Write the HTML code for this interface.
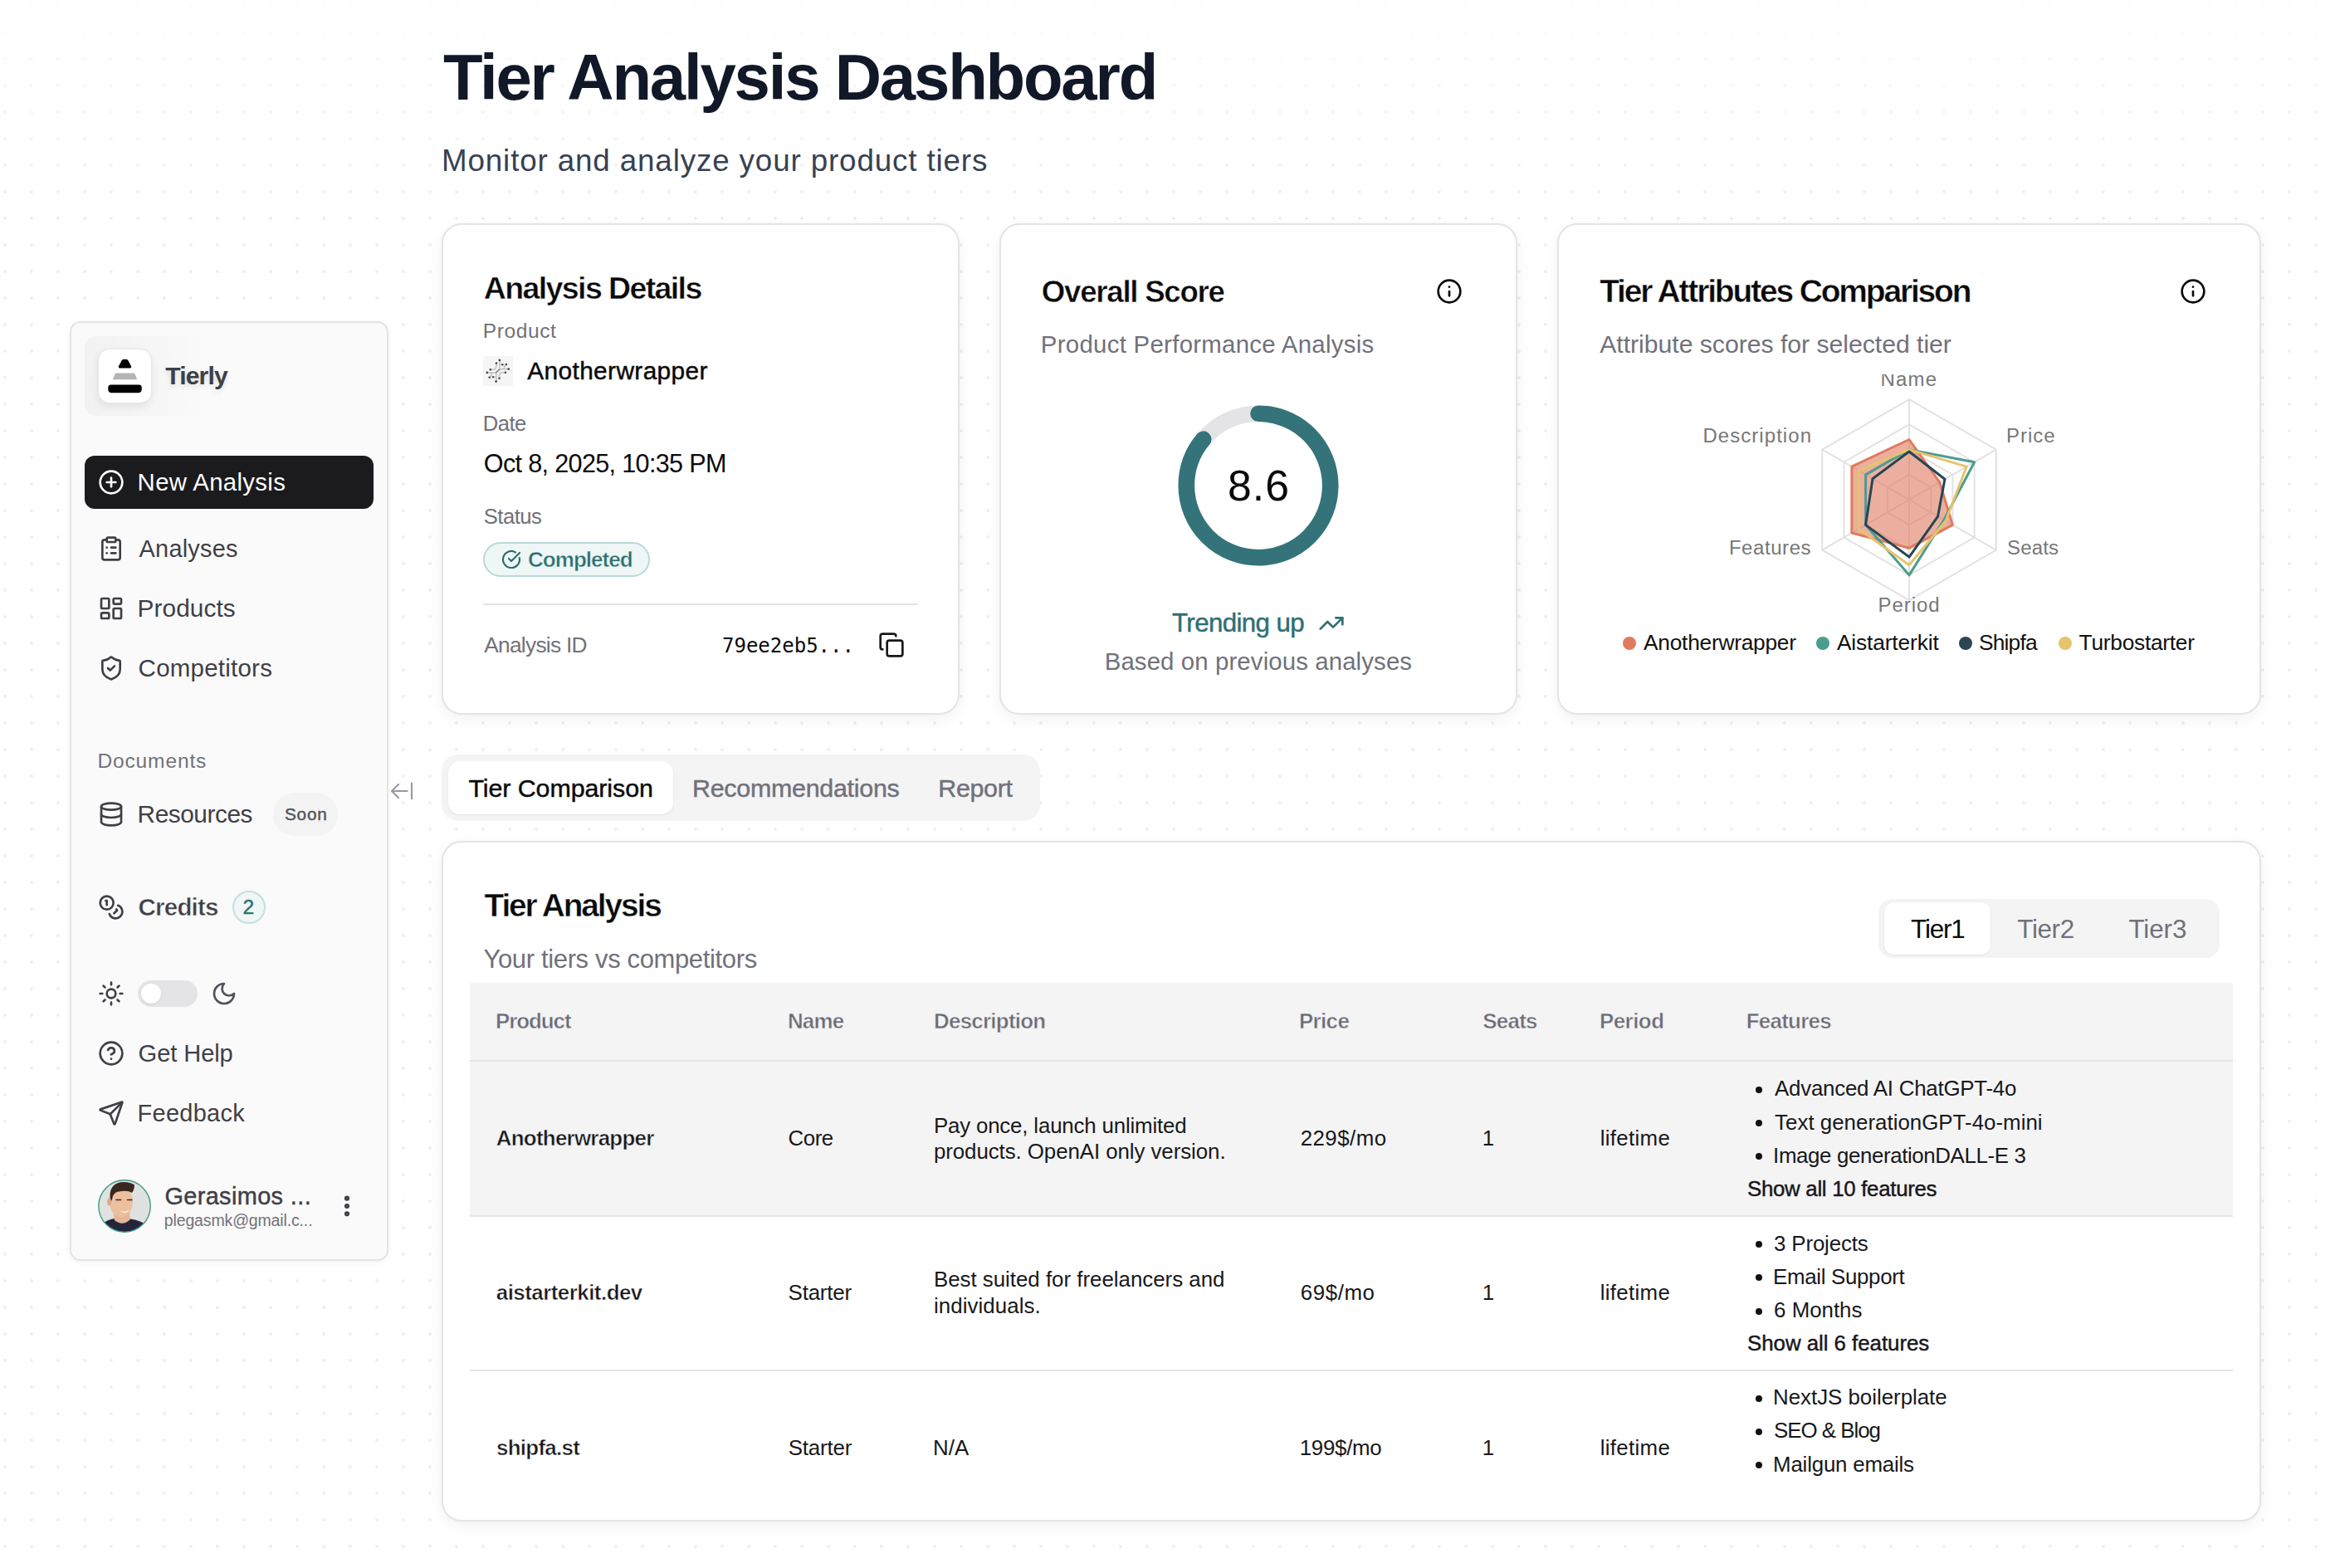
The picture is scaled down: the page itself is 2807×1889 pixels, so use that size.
<!DOCTYPE html>
<html><head><meta charset="utf-8"><title>Tier Analysis Dashboard</title>
<style>
*{box-sizing:border-box;margin:0;padding:0}
html,body{width:2807px;height:1889px;overflow:hidden;background:#fff}
body{position:relative;font-family:'Liberation Sans', Arial, sans-serif;
background-color:#fff}
body::before{content:"";position:absolute;left:0;top:0;width:2807px;height:1889px;
background-image:radial-gradient(circle, #f0f0f0 1.6px, rgba(255,255,255,0) 2.3px);
background-size:32px 32px;background-position:-10px -9px;
-webkit-mask-image:linear-gradient(to bottom, rgba(0,0,0,0.15) 0px, rgba(0,0,0,1) 260px);
mask-image:linear-gradient(to bottom, rgba(0,0,0,0.15) 0px, rgba(0,0,0,1) 260px)}
.t{position:absolute;white-space:pre}
.ab{position:absolute}
.ic{position:absolute;overflow:visible}
.card{position:absolute;background:#fff;border:2px solid #e4e4e7;border-radius:24px;box-shadow:0 6px 18px rgba(0,0,0,0.05),0 0 6px rgba(0,0,0,0.025)}
</style>
<script>(function(){var s=window.innerWidth/2807;if(s>0&&Math.abs(s-1)>0.002){document.documentElement.style.zoom=s;}})();</script>
</head><body>
<!-- sidebar -->
<div class="ab" style="left:84px;top:387px;width:384.4px;height:1131.5px;background:#fafafa;border:2px solid #e4e4e7;border-radius:13px;box-shadow:0 2px 8px rgba(0,0,0,0.05)"></div>
<div class="ab" style="left:102px;top:405px;width:150px;height:96px;border-radius:14px;background:linear-gradient(90deg,rgba(0,0,0,0.035),rgba(0,0,0,0.0))"></div>
<div class="ab" style="left:117.5px;top:419.5px;width:65px;height:66px;border-radius:14px;background:#fff;border:1.5px solid #e6e6e8;box-shadow:0 4px 10px rgba(0,0,0,0.08)"></div>
<svg class="ab" style="left:117.5px;top:419.5px" width="65" height="66" viewBox="117.5 419.5 65 66">
<path d="M146.5,433 Q150,431.5 153.5,433 L157.7,441 Q158,443 156,443 L144,443 Q142,443 142.3,441 Z" fill="#000"/>
<path d="M138.5,449 L161.5,449 L164.8,456.7 L135.2,456.7 Z" fill="#b4b4b4"/>
<path d="M133,462.9 L167,462.9 Q170,463 170.2,466 L170.2,469 Q170,472.7 166,472.7 L134,472.7 Q130,472.7 129.8,469 L129.8,466 Q130,463 133,462.9 Z" fill="#000"/>
</svg>
<div class="ab" style="left:102px;top:549px;width:348px;height:64px;border-radius:12px;background:#1b1b1e"></div>
<svg class="ic" style="left:117.9px;top:565.2px;" width="32" height="32" viewBox="0 0 24 24" fill="none" stroke="#ffffff" stroke-width="2" stroke-linecap="round" stroke-linejoin="round"><circle cx="12" cy="12" r="10"/><path d="M8 12h8"/><path d="M12 8v8"/></svg>
<svg class="ic" style="left:118px;top:645px;" width="32" height="32" viewBox="0 0 24 24" fill="none" stroke="#3f3f46" stroke-width="2" stroke-linecap="round" stroke-linejoin="round"><rect width="8" height="4" x="8" y="2" rx="1" ry="1"/><path d="M16 4h2a2 2 0 0 1 2 2v14a2 2 0 0 1-2 2H6a2 2 0 0 1-2-2V6a2 2 0 0 1 2-2h2"/><path d="M12 11h4"/><path d="M12 16h4"/><path d="M8 11h.01"/><path d="M8 16h.01"/></svg>
<svg class="ic" style="left:118px;top:717px;" width="32" height="32" viewBox="0 0 24 24" fill="none" stroke="#3f3f46" stroke-width="2" stroke-linecap="round" stroke-linejoin="round"><rect width="7" height="9" x="3" y="3" rx="1"/><rect width="7" height="5" x="14" y="3" rx="1"/><rect width="7" height="9" x="14" y="12" rx="1"/><rect width="7" height="5" x="3" y="16" rx="1"/></svg>
<svg class="ic" style="left:118px;top:789px;" width="32" height="32" viewBox="0 0 24 24" fill="none" stroke="#3f3f46" stroke-width="2" stroke-linecap="round" stroke-linejoin="round"><path d="M20 13c0 5-3.5 7.5-7.66 8.95a1 1 0 0 1-.67-.01C7.5 20.5 4 18 4 13V6a1 1 0 0 1 1-1c2 0 4.5-1.2 6.24-2.72a1.17 1.17 0 0 1 1.52 0C14.51 3.81 17 5 19 5a1 1 0 0 1 1 1z"/><path d="m9 12 2 2 4-4"/></svg>
<svg class="ic" style="left:118px;top:965px;" width="32" height="32" viewBox="0 0 24 24" fill="none" stroke="#3f3f46" stroke-width="2" stroke-linecap="round" stroke-linejoin="round"><ellipse cx="12" cy="5" rx="9" ry="3"/><path d="M3 5V19A9 3 0 0 0 21 19V5"/><path d="M3 12A9 3 0 0 0 21 12"/></svg>
<div class="ab" style="left:329px;top:955.4px;width:77.6px;height:51.2px;border-radius:26px;background:#f3f3f4"></div>
<svg class="ic" style="left:118px;top:1077px;" width="32" height="32" viewBox="0 0 24 24" fill="none" stroke="#3f3f46" stroke-width="2" stroke-linecap="round" stroke-linejoin="round"><circle cx="8" cy="8" r="6"/><path d="M18.09 10.37A6 6 0 1 1 10.34 18"/><path d="M7 6h1v4"/><path d="m16.71 13.88.7.71-2.82 2.82"/></svg>
<div class="ab" style="left:280px;top:1072.8px;width:40px;height:40px;border-radius:50%;background:#eef6f6;border:2px solid #c5dfde"></div>
<svg class="ic" style="left:118px;top:1181px;" width="32" height="32" viewBox="0 0 24 24" fill="none" stroke="#3f3f46" stroke-width="2" stroke-linecap="round" stroke-linejoin="round"><circle cx="12" cy="12" r="4"/><path d="M12 2v2"/><path d="M12 20v2"/><path d="m4.93 4.93 1.41 1.41"/><path d="m17.66 17.66 1.41 1.41"/><path d="M2 12h2"/><path d="M20 12h2"/><path d="m6.34 17.66-1.41 1.41"/><path d="m19.07 4.93-1.41 1.41"/></svg>
<div class="ab" style="left:166.2px;top:1181.3px;width:71.7px;height:31.8px;border-radius:16px;background:#e4e4e7"></div>
<div class="ab" style="left:170px;top:1185.2px;width:24px;height:24px;border-radius:50%;background:#fff;box-shadow:0 1px 2px rgba(0,0,0,0.1)"></div>
<svg class="ic" style="left:254px;top:1181px;" width="32" height="32" viewBox="0 0 24 24" fill="none" stroke="#52525b" stroke-width="2" stroke-linecap="round" stroke-linejoin="round"><path d="M12 3a6 6 0 0 0 9 9 9 9 0 1 1-9-9Z"/></svg>
<svg class="ic" style="left:118px;top:1253px;" width="32" height="32" viewBox="0 0 24 24" fill="none" stroke="#3f3f46" stroke-width="2" stroke-linecap="round" stroke-linejoin="round"><circle cx="12" cy="12" r="10"/><path d="M9.09 9a3 3 0 0 1 5.83 1c0 2-3 3-3 3"/><path d="M12 17h.01"/></svg>
<svg class="ic" style="left:118px;top:1325px;" width="32" height="32" viewBox="0 0 24 24" fill="none" stroke="#3f3f46" stroke-width="2" stroke-linecap="round" stroke-linejoin="round"><path d="M14.536 21.686a.5.5 0 0 0 .937-.024l6.5-19a.496.496 0 0 0-.635-.635l-19 6.5a.5.5 0 0 0-.024.937l7.93 3.18a2 2 0 0 1 1.112 1.11z"/><path d="m21.854 2.147-10.94 10.939"/></svg>
<svg class="ab" style="left:118.2px;top:1421.2px" width="64" height="64" viewBox="0 0 64 64">
<defs><clipPath id="avc"><circle cx="32" cy="32" r="31.2"/></clipPath></defs>
<g clip-path="url(#avc)">
<rect width="64" height="64" fill="#dfe2e0"/>
<path d="M4 54 Q12 48 20 47 L36 47 Q46 48 54 52 L64 64 L0 64 Z" fill="#23253a"/>
<path d="M18 38 L38 38 L39 48 Q30 57 20 49 Z" fill="#e6b696"/>
<ellipse cx="28" cy="27" rx="14" ry="18.5" fill="#ecbf9f"/>
<ellipse cx="13.6" cy="27" rx="2.4" ry="4.5" fill="#dda98a"/>
<path d="M14.5 22 Q13.5 6 27 3.2 Q38 2 44 6.5 Q44 12 41 16 Q36 13 29 14 Q20 14 18 20 L16.5 26 Z" fill="#3a2720"/>
<path d="M22 24.5 H27.5 M35.5 24.5 H41" stroke="#3a2a24" stroke-width="1.6" stroke-linecap="round"/>
<path d="M26 37 Q32 40.5 38.5 36.5 Q33 43 26 37 Z" fill="#fff"/>
</g>
<circle cx="32" cy="32" r="31.2" fill="none" stroke="#3d9a88" stroke-width="1.4"/>
</svg>
</div>
<svg class="ic" style="left:402px;top:1437px;" width="32" height="32" viewBox="0 0 24 24" fill="none" stroke="#3f3f46" stroke-width="2.6" stroke-linecap="round" stroke-linejoin="round"><circle cx="12" cy="12" r="1"/><circle cx="12" cy="5" r="1"/><circle cx="12" cy="19" r="1"/></svg>
<svg class="ic" style="left:467.7px;top:937px;" width="32" height="32" viewBox="0 0 24 24" fill="none" stroke="#9a9aa2" stroke-width="1.6" stroke-linecap="round" stroke-linejoin="round"><path d="m9 6-6 6 6 6"/><path d="M3 12h14"/><path d="M21 19V5"/></svg>

<!-- header -->
<!-- cards -->
<div class="card" style="left:532.2px;top:269px;width:623.8px;height:591.8px"></div>
<div class="card" style="left:1203.7px;top:269px;width:624.1px;height:591.8px"></div>
<div class="card" style="left:1876px;top:269px;width:847.9px;height:591.8px"></div>
<div class="ab" style="left:582.2px;top:429.2px;width:35.7px;height:35.7px;background:#f5f5f5"></div>
<svg class="ab" style="left:582.2px;top:429.2px" width="36" height="36" viewBox="0 0 36 36" fill="none" stroke-linecap="round">
<g stroke="#c4c4c4" stroke-width="1.6">
<path d="M19.9 4.9V16.4M19.9 10.2H23.4M19.3 15.6H30.8M25 15.1Q25.3 12 27.9 10M16 8.6V11.5Q16 16.2 11.5 16.2H8.8M4.8 19.9H15.8M15.8 19.6V30.6M10.2 19.9Q10.2 24 7.7 25.7M15.8 25.2H12M26.9 19.8H23.5Q19.5 19.8 19.5 23.5V26.8"/>
</g>
<path d="M19.3 16.4L15.8 19.6" stroke="#555" stroke-width="1.2" stroke-dasharray="1.2 1"/>
<g fill="#4a4a4a"><circle cx="19.9" cy="4.9" r="1.4"/><circle cx="23.4" cy="10.2" r="1.2"/><circle cx="30.8" cy="15.6" r="1.4"/><circle cx="27.9" cy="10" r="1.3"/><circle cx="16" cy="8.6" r="1.3"/><circle cx="8.8" cy="16.2" r="1.3"/><circle cx="4.8" cy="19.9" r="1.4"/><circle cx="15.6" cy="30.6" r="1.4"/><circle cx="7.7" cy="25.7" r="1.3"/><circle cx="12" cy="25.2" r="1.2"/><circle cx="26.9" cy="19.8" r="1.3"/><circle cx="19.5" cy="26.8" r="1.3"/></g>
</svg>
<div class="ab" style="left:582.1px;top:652.7px;width:201px;height:42.6px;border-radius:22px;background:#eef7f6;border:2px solid #b9d9d6"></div>
<svg class="ic" style="left:604px;top:662px;" width="24" height="24" viewBox="0 0 24 24" fill="none" stroke="#2c6e6e" stroke-width="2.2" stroke-linecap="round" stroke-linejoin="round"><path d="M21.801 10A10 10 0 1 1 17 3.335"/><path d="m9 11 3 3L22 4"/></svg>
<div class="ab" style="left:582px;top:726.5px;width:523.6px;height:2px;background:#e4e4e7"></div>
<svg class="ic" style="left:1058px;top:761px;" width="32" height="32" viewBox="0 0 24 24" fill="none" stroke="#18181b" stroke-width="2" stroke-linecap="round" stroke-linejoin="round"><rect width="14" height="14" x="8" y="8" rx="2" ry="2"/><path d="M4 16c-1.1 0-2-.9-2-2V4c0-1.1.9-2 2-2h10c1.1 0 2 .9 2 2"/></svg>
<svg class="ic" style="left:1730px;top:335px;" width="32" height="32" viewBox="0 0 24 24" fill="none" stroke="#0a0a0a" stroke-width="2" stroke-linecap="round" stroke-linejoin="round"><circle cx="12" cy="12" r="10"/><path d="M12 16v-4"/><path d="M12 8h.01"/></svg>
<svg class="ab" style="left:1406px;top:474.6px" width="220" height="220" viewBox="1406 474.6 220 220"><circle cx="1516" cy="584.6" r="86.7" fill="none" stroke="#e4e4e7" stroke-width="19.6"/><circle cx="1516" cy="584.6" r="86.7" fill="none" stroke="#347379" stroke-width="19.6" stroke-linecap="round" stroke-dasharray="468.49 544.75" transform="rotate(-90 1516 584.6)"/></svg>
<svg class="ic" style="left:1588.2px;top:735.4px;" width="32" height="32" viewBox="0 0 24 24" fill="none" stroke="#2f6f73" stroke-width="2" stroke-linecap="round" stroke-linejoin="round"><polyline points="22 7 13.5 15.5 8.5 10.5 2 17"/><polyline points="16 7 22 7 22 13"/></svg>
<svg class="ic" style="left:2625.7px;top:335px;" width="32" height="32" viewBox="0 0 24 24" fill="none" stroke="#0a0a0a" stroke-width="2" stroke-linecap="round" stroke-linejoin="round"><circle cx="12" cy="12" r="10"/><path d="M12 16v-4"/><path d="M12 8h.01"/></svg>
<svg class="ab" style="left:1880px;top:450px" width="840" height="300" viewBox="1880 450 840 300"><polygon points="2300.0,571.85 2326.2,586.98 2326.2,617.23 2300.0,632.35 2273.8,617.23 2273.8,586.98" fill="none" stroke="#e2e2e4" stroke-width="2"/><polygon points="2300.0,541.6 2352.39,571.85 2352.39,632.35 2300.0,662.6 2247.61,632.35 2247.61,571.85" fill="none" stroke="#e2e2e4" stroke-width="2"/><polygon points="2300.0,511.35 2378.59,556.73 2378.59,647.48 2300.0,692.85 2221.41,647.48 2221.41,556.73" fill="none" stroke="#e2e2e4" stroke-width="2"/><polygon points="2300.0,481.1 2404.79,541.6 2404.79,662.6 2300.0,723.1 2195.21,662.6 2195.21,541.6" fill="none" stroke="#e2e2e4" stroke-width="2"/><line x1="2300" y1="602.1" x2="2300.0" y2="481.1" stroke="#e2e2e4" stroke-width="2"/><line x1="2300" y1="602.1" x2="2404.79" y2="541.6" stroke="#e2e2e4" stroke-width="2"/><line x1="2300" y1="602.1" x2="2404.79" y2="662.6" stroke="#e2e2e4" stroke-width="2"/><line x1="2300" y1="602.1" x2="2300.0" y2="723.1" stroke="#e2e2e4" stroke-width="2"/><line x1="2300" y1="602.1" x2="2195.21" y2="662.6" stroke="#e2e2e4" stroke-width="2"/><line x1="2300" y1="602.1" x2="2195.21" y2="541.6" stroke="#e2e2e4" stroke-width="2"/><polygon points="2300.0,529.5 2336.68,580.93 2352.39,632.35 2300.0,660.18 2230.84,642.03 2230.84,562.17" fill="#e07a5f" fill-opacity="0.6" stroke="#e07a5f" stroke-width="3" stroke-linejoin="round"/><polygon points="2300.0,541.6 2378.59,556.73 2341.92,626.3 2300.0,692.85 2247.61,632.35 2247.61,571.85" fill="none" stroke="#4a9d8f" stroke-width="3" stroke-linejoin="round"/><polygon points="2300.0,541.6 2369.16,562.17 2344.01,627.51 2300.0,680.75 2239.22,637.19 2239.22,567.01" fill="none" stroke="#e6c46b" stroke-width="3" stroke-linejoin="round"/><polygon points="2300.0,544.02 2342.96,577.3 2334.58,622.07 2300.0,671.07 2247.61,632.35 2255.99,576.69" fill="none" stroke="#264653" stroke-width="3" stroke-linejoin="round"/></svg>
<div class="ab" style="left:1955.1px;top:767px;width:16px;height:16px;border-radius:50%;background:#e07a5f"></div>
<div class="ab" style="left:2187.6px;top:767px;width:16px;height:16px;border-radius:50%;background:#4a9d8f"></div>
<div class="ab" style="left:2359.9px;top:767px;width:16px;height:16px;border-radius:50%;background:#2b4654"></div>
<div class="ab" style="left:2479.6px;top:767px;width:16px;height:16px;border-radius:50%;background:#e6c46b"></div>

<!-- tabs -->
<div class="ab" style="left:532px;top:909px;width:721px;height:80px;border-radius:20px;background:#f4f4f5"></div>
<div class="ab" style="left:539.7px;top:916.8px;width:271.2px;height:64.2px;border-radius:14px;background:#fff;box-shadow:0 1px 3px rgba(0,0,0,0.08)"></div>

<!-- table card -->
<div class="card" style="left:532px;top:1012.7px;width:2191.6px;height:819.9px;overflow:hidden">
</div>
<div class="ab" style="left:2262.6px;top:1083px;width:411px;height:71.4px;border-radius:16px;background:#f4f4f5"></div>
<div class="ab" style="left:2270px;top:1086.8px;width:127.8px;height:63.2px;border-radius:12px;background:#fff;box-shadow:0 1px 3px rgba(0,0,0,0.08)"></div>
<div class="ab" style="left:565.7px;top:1183.7px;width:2124px;height:95.3px;background:#f4f4f5;border-bottom:2px solid #e4e4e7"></div>
<div class="ab" style="left:565.7px;top:1279px;width:2124px;height:187px;background:#f4f4f5;border-bottom:2px solid #e4e4e7"></div>
<div class="ab" style="left:565.7px;top:1466px;width:2124px;height:186px;border-bottom:2px solid #e4e4e7"></div>
<div class="ab" style="left:2115px;top:1309.0px;width:8px;height:8px;border-radius:50%;background:#111"></div><div class="ab" style="left:2115px;top:1349.2px;width:8px;height:8px;border-radius:50%;background:#111"></div><div class="ab" style="left:2115px;top:1389.4px;width:8px;height:8px;border-radius:50%;background:#111"></div><div class="ab" style="left:2115px;top:1495.2px;width:8px;height:8px;border-radius:50%;background:#111"></div><div class="ab" style="left:2115px;top:1535.3px;width:8px;height:8px;border-radius:50%;background:#111"></div><div class="ab" style="left:2115px;top:1575.5px;width:8px;height:8px;border-radius:50%;background:#111"></div><div class="ab" style="left:2115px;top:1680.8px;width:8px;height:8px;border-radius:50%;background:#111"></div><div class="ab" style="left:2115px;top:1721.0px;width:8px;height:8px;border-radius:50%;background:#111"></div><div class="ab" style="left:2115px;top:1761.2px;width:8px;height:8px;border-radius:50%;background:#111"></div>
<div class="t" style="left:534px;top:54.7px;font-family:'Liberation Sans', Arial, sans-serif;font-size:77.91px;line-height:77.91px;font-weight:700;letter-spacing:-2.182px;color:#111827;">Tier Analysis Dashboard</div><div class="t" style="left:532px;top:175.5px;font-family:'Liberation Sans', Arial, sans-serif;font-size:36.77px;line-height:36.77px;font-weight:400;letter-spacing:0.865px;color:#374151;">Monitor and analyze your product tiers</div><div class="t" style="left:199.2px;top:438.1px;font-family:'Liberation Sans', Arial, sans-serif;font-size:30.09px;line-height:30.09px;font-weight:700;letter-spacing:-0.84px;color:#3f3f46;text-shadow:0 3px 6px rgba(0,0,0,0.12);">Tierly</div><div class="t" style="left:165.6px;top:566px;font-family:'Liberation Sans', Arial, sans-serif;font-size:29.36px;line-height:29.36px;font-weight:400;letter-spacing:0.336px;color:#ffffff;">New Analysis</div><div class="t" style="left:167.6px;top:646.9px;font-family:'Liberation Sans', Arial, sans-serif;font-size:28.92px;line-height:28.92px;font-weight:400;letter-spacing:0.214px;color:#3f3f46;">Analyses</div><div class="t" style="left:165.6px;top:718.2px;font-family:'Liberation Sans', Arial, sans-serif;font-size:29.8px;line-height:29.8px;font-weight:400;letter-spacing:0.071px;color:#3f3f46;">Products</div><div class="t" style="left:166.6px;top:790.3px;font-family:'Liberation Sans', Arial, sans-serif;font-size:29.51px;line-height:29.51px;font-weight:400;letter-spacing:0.23px;color:#3f3f46;">Competitors</div><div class="t" style="left:117.4px;top:904.9px;font-family:'Liberation Sans', Arial, sans-serif;font-size:24.56px;line-height:24.56px;font-weight:400;letter-spacing:0.85px;color:#71717a;">Documents</div><div class="t" style="left:165.6px;top:966.2px;font-family:'Liberation Sans', Arial, sans-serif;font-size:29.8px;line-height:29.8px;font-weight:400;letter-spacing:-0.45px;color:#3f3f46;">Resources</div><div class="t" style="left:342.9px;top:971px;font-family:'Liberation Sans', Arial, sans-serif;font-size:20.78px;line-height:20.78px;font-weight:400;letter-spacing:0.8px;color:#52525b;-webkit-text-stroke:0.45px currentColor;">Soon</div><div class="t" style="left:166.6px;top:1078.2px;font-family:'Liberation Sans', Arial, sans-serif;font-size:29.51px;line-height:29.51px;font-weight:700;letter-spacing:-0.8px;color:#3f3f46;-webkit-text-stroke:0.5px #fafafa;">Credits</div><div class="t" style="left:292.5px;top:1081.2px;font-family:'Liberation Sans', Arial, sans-serif;font-size:24.56px;line-height:24.56px;font-weight:400;letter-spacing:0px;color:#2a7070;-webkit-text-stroke:0.45px currentColor;">2</div><div class="t" style="left:166.6px;top:1255px;font-family:'Liberation Sans', Arial, sans-serif;font-size:29.07px;line-height:29.07px;font-weight:400;letter-spacing:-0.071px;color:#3f3f46;">Get Help</div><div class="t" style="left:165.6px;top:1327.1px;font-family:'Liberation Sans', Arial, sans-serif;font-size:28.92px;line-height:28.92px;font-weight:400;letter-spacing:0.3px;color:#3f3f46;">Feedback</div><div class="t" style="left:198.4px;top:1426.7px;font-family:'Liberation Sans', Arial, sans-serif;font-size:28.92px;line-height:28.92px;font-weight:400;letter-spacing:0.367px;color:#3f3f46;-webkit-text-stroke:0.45px currentColor;">Gerasimos ...</div><div class="t" style="left:197.8px;top:1461px;font-family:'Liberation Sans', Arial, sans-serif;font-size:19.5px;line-height:19.5px;font-weight:400;letter-spacing:-0.139px;color:#71717a;">plegasmk@gmail.c...</div><div class="t" style="left:582.8px;top:328.9px;font-family:'Liberation Sans', Arial, sans-serif;font-size:37.5px;line-height:37.5px;font-weight:700;letter-spacing:-1.613px;color:#0a0a0a;-webkit-text-stroke:0.45px #ffffff;">Analysis Details</div><div class="t" style="left:581.8px;top:386.9px;font-family:'Liberation Sans', Arial, sans-serif;font-size:24.56px;line-height:24.56px;font-weight:400;letter-spacing:0.583px;color:#71717a;">Product</div><div class="t" style="left:635.3px;top:432.3px;font-family:'Liberation Sans', Arial, sans-serif;font-size:29.8px;line-height:29.8px;font-weight:400;letter-spacing:0.392px;color:#0a0a0a;-webkit-text-stroke:0.45px currentColor;">Anotherwrapper</div><div class="t" style="left:581.8px;top:497.8px;font-family:'Liberation Sans', Arial, sans-serif;font-size:25.58px;line-height:25.58px;font-weight:400;letter-spacing:-0.5px;color:#71717a;">Date</div><div class="t" style="left:582.8px;top:543.2px;font-family:'Liberation Sans', Arial, sans-serif;font-size:30.52px;line-height:30.52px;font-weight:400;letter-spacing:-0.635px;color:#0a0a0a;">Oct 8, 2025, 10:35 PM</div><div class="t" style="left:582.8px;top:610.2px;font-family:'Liberation Sans', Arial, sans-serif;font-size:25.58px;line-height:25.58px;font-weight:400;letter-spacing:-0.5px;color:#71717a;">Status</div><div class="t" style="left:636px;top:660.7px;font-family:'Liberation Sans', Arial, sans-serif;font-size:26.02px;line-height:26.02px;font-weight:700;letter-spacing:-0.975px;color:#2c6e6e;-webkit-text-stroke:0.5px #eef7f6;">Completed</div><div class="t" style="left:583.2px;top:763.6px;font-family:'Liberation Sans', Arial, sans-serif;font-size:26.31px;line-height:26.31px;font-weight:400;letter-spacing:-0.71px;color:#71717a;">Analysis ID</div><div class="t" style="left:870px;top:765.6px;font-family:'DejaVu Sans Mono', 'Liberation Mono', monospace;font-size:24px;line-height:24px;font-weight:400;letter-spacing:0px;color:#0a0a0a;">79ee2eb5...</div><div class="t" style="left:1254.8px;top:334.1px;font-family:'Liberation Sans', Arial, sans-serif;font-size:36.63px;line-height:36.63px;font-weight:700;letter-spacing:-1.25px;color:#0a0a0a;-webkit-text-stroke:0.45px #ffffff;">Overall Score</div><div class="t" style="left:1253.8px;top:400.1px;font-family:'Liberation Sans', Arial, sans-serif;font-size:29.36px;line-height:29.36px;font-weight:400;letter-spacing:0.304px;color:#71717a;">Product Performance Analysis</div><div class="t" style="left:1479px;top:560.3px;font-family:'Liberation Sans', Arial, sans-serif;font-size:51.74px;line-height:51.74px;font-weight:400;letter-spacing:1.0px;color:#0a0a0a;">8.6</div><div class="t" style="left:1412px;top:735.3px;font-family:'Liberation Sans', Arial, sans-serif;font-size:31.25px;line-height:31.25px;font-weight:400;letter-spacing:-0.6px;color:#2f6f73;-webkit-text-stroke:0.45px currentColor;">Trending up</div><div class="t" style="left:1330.7px;top:782px;font-family:'Liberation Sans', Arial, sans-serif;font-size:29.36px;line-height:29.36px;font-weight:400;letter-spacing:0.124px;color:#71717a;">Based on previous analyses</div><div class="t" style="left:1927.2px;top:332.2px;font-family:'Liberation Sans', Arial, sans-serif;font-size:38.95px;line-height:38.95px;font-weight:700;letter-spacing:-2.144px;color:#0a0a0a;-webkit-text-stroke:0.45px #ffffff;">Tier Attributes Comparison</div><div class="t" style="left:1927.2px;top:400.4px;font-family:'Liberation Sans', Arial, sans-serif;font-size:30.23px;line-height:30.23px;font-weight:400;letter-spacing:-0.036px;color:#71717a;">Attribute scores for selected tier</div><div class="ab" style="left:2200px;top:450.5px;width:200px;height:40px;overflow:hidden"><div class="t" style="left:65.6px;top:-5.8px;font-family:'Liberation Sans', Arial, sans-serif;font-size:23.98px;line-height:23.98px;font-weight:400;letter-spacing:1.167px;color:#777777;">Name</div></div><div class="t" style="left:2051.4px;top:512.7px;font-family:'Liberation Sans', Arial, sans-serif;font-size:23.98px;line-height:23.98px;font-weight:400;letter-spacing:1.07px;color:#777777;">Description</div><div class="t" style="left:2417px;top:512.7px;font-family:'Liberation Sans', Arial, sans-serif;font-size:23.98px;line-height:23.98px;font-weight:400;letter-spacing:1.0px;color:#777777;">Price</div><div class="t" style="left:2082.9px;top:648.3px;font-family:'Liberation Sans', Arial, sans-serif;font-size:23.98px;line-height:23.98px;font-weight:400;letter-spacing:0.586px;color:#777777;">Features</div><div class="t" style="left:2418px;top:648.3px;font-family:'Liberation Sans', Arial, sans-serif;font-size:23.98px;line-height:23.98px;font-weight:400;letter-spacing:0.2px;color:#777777;">Seats</div><div class="t" style="left:2262.6px;top:716.7px;font-family:'Liberation Sans', Arial, sans-serif;font-size:23.98px;line-height:23.98px;font-weight:400;letter-spacing:0.92px;color:#777777;">Period</div><div class="t" style="left:1980px;top:761.3px;font-family:'Liberation Sans', Arial, sans-serif;font-size:26.31px;line-height:26.31px;font-weight:400;letter-spacing:-0.238px;color:#111111;">Anotherwrapper</div><div class="t" style="left:2212.9px;top:761.3px;font-family:'Liberation Sans', Arial, sans-serif;font-size:26.31px;line-height:26.31px;font-weight:400;letter-spacing:-0.127px;color:#111111;">Aistarterkit</div><div class="t" style="left:2383.9px;top:761.3px;font-family:'Liberation Sans', Arial, sans-serif;font-size:26.31px;line-height:26.31px;font-weight:400;letter-spacing:-0.78px;color:#111111;">Shipfa</div><div class="t" style="left:2504.6px;top:761.3px;font-family:'Liberation Sans', Arial, sans-serif;font-size:26.31px;line-height:26.31px;font-weight:400;letter-spacing:-0.264px;color:#111111;">Turbostarter</div><div class="t" style="left:564.4px;top:933.7px;font-family:'Liberation Sans', Arial, sans-serif;font-size:30.38px;line-height:30.38px;font-weight:400;letter-spacing:-0.064px;color:#0a0a0a;-webkit-text-stroke:0.45px currentColor;">Tier Comparison</div><div class="t" style="left:834px;top:933.7px;font-family:'Liberation Sans', Arial, sans-serif;font-size:30.38px;line-height:30.38px;font-weight:400;letter-spacing:-0.25px;color:#71717a;-webkit-text-stroke:0.45px currentColor;">Recommendations</div><div class="t" style="left:1130.3px;top:933.7px;font-family:'Liberation Sans', Arial, sans-serif;font-size:30.38px;line-height:30.38px;font-weight:400;letter-spacing:-0.3px;color:#71717a;-webkit-text-stroke:0.45px currentColor;">Report</div><div class="t" style="left:583.5px;top:1072px;font-family:'Liberation Sans', Arial, sans-serif;font-size:38.81px;line-height:38.81px;font-weight:700;letter-spacing:-2.092px;color:#0a0a0a;-webkit-text-stroke:0.45px #ffffff;">Tier Analysis</div><div class="t" style="left:582.5px;top:1140.5px;font-family:'Liberation Sans', Arial, sans-serif;font-size:30.96px;line-height:30.96px;font-weight:400;letter-spacing:-0.338px;color:#71717a;">Your tiers vs competitors</div><div class="t" style="left:2302.1px;top:1104px;font-family:'Liberation Sans', Arial, sans-serif;font-size:31.4px;line-height:31.4px;font-weight:400;letter-spacing:-1.175px;color:#0a0a0a;">Tier1</div><div class="t" style="left:2430.3px;top:1104px;font-family:'Liberation Sans', Arial, sans-serif;font-size:31.4px;line-height:31.4px;font-weight:400;letter-spacing:-0.375px;color:#71717a;">Tier2</div><div class="t" style="left:2564.4px;top:1104px;font-family:'Liberation Sans', Arial, sans-serif;font-size:31.4px;line-height:31.4px;font-weight:400;letter-spacing:-0.1px;color:#71717a;">Tier3</div><div class="t" style="left:597px;top:1218.3px;font-family:'Liberation Sans', Arial, sans-serif;font-size:25.87px;line-height:25.87px;font-weight:700;letter-spacing:-1.017px;color:#6b6b76;-webkit-text-stroke:0.5px #f4f4f5;">Product</div><div class="t" style="left:948.9px;top:1218.3px;font-family:'Liberation Sans', Arial, sans-serif;font-size:25.87px;line-height:25.87px;font-weight:700;letter-spacing:-0.7px;color:#6b6b76;-webkit-text-stroke:0.5px #f4f4f5;">Name</div><div class="t" style="left:1125px;top:1218.3px;font-family:'Liberation Sans', Arial, sans-serif;font-size:25.87px;line-height:25.87px;font-weight:700;letter-spacing:-0.71px;color:#6b6b76;-webkit-text-stroke:0.5px #f4f4f5;">Description</div><div class="t" style="left:1565px;top:1218.3px;font-family:'Liberation Sans', Arial, sans-serif;font-size:25.87px;line-height:25.87px;font-weight:700;letter-spacing:-0.625px;color:#6b6b76;-webkit-text-stroke:0.5px #f4f4f5;">Price</div><div class="t" style="left:1786.2px;top:1218.3px;font-family:'Liberation Sans', Arial, sans-serif;font-size:25.87px;line-height:25.87px;font-weight:700;letter-spacing:-0.675px;color:#6b6b76;-webkit-text-stroke:0.5px #f4f4f5;">Seats</div><div class="t" style="left:1926.9px;top:1218.3px;font-family:'Liberation Sans', Arial, sans-serif;font-size:25.87px;line-height:25.87px;font-weight:700;letter-spacing:-0.48px;color:#6b6b76;-webkit-text-stroke:0.5px #f4f4f5;">Period</div><div class="t" style="left:2103.7px;top:1218.3px;font-family:'Liberation Sans', Arial, sans-serif;font-size:25.87px;line-height:25.87px;font-weight:700;letter-spacing:-0.7px;color:#6b6b76;-webkit-text-stroke:0.5px #f4f4f5;">Features</div><div class="t" style="left:597.8px;top:1359.2px;font-family:'Liberation Sans', Arial, sans-serif;font-size:25.87px;line-height:25.87px;font-weight:700;letter-spacing:-0.715px;color:#18181b;-webkit-text-stroke:0.5px #f4f4f5;">Anotherwrapper</div><div class="t" style="left:949.6px;top:1359.2px;font-family:'Liberation Sans', Arial, sans-serif;font-size:25.87px;line-height:25.87px;font-weight:400;letter-spacing:-0.467px;color:#18181b;">Core</div><div class="t" style="left:1124.9px;top:1343.6px;font-family:'Liberation Sans', Arial, sans-serif;font-size:25.87px;line-height:25.87px;font-weight:400;letter-spacing:-0.172px;color:#18181b;">Pay once, launch unlimited</div><div class="t" style="left:1124.9px;top:1374.9px;font-family:'Liberation Sans', Arial, sans-serif;font-size:25.87px;line-height:25.87px;font-weight:400;letter-spacing:-0.066px;color:#18181b;">products. OpenAI only version.</div><div class="t" style="left:1566.7px;top:1359.2px;font-family:'Liberation Sans', Arial, sans-serif;font-size:25.87px;line-height:25.87px;font-weight:400;letter-spacing:0.45px;color:#18181b;">229$/mo</div><div class="t" style="left:1785.7px;top:1359.2px;font-family:'Liberation Sans', Arial, sans-serif;font-size:25.87px;line-height:25.87px;font-weight:400;letter-spacing:0px;color:#18181b;">1</div><div class="t" style="left:1927.7px;top:1359.2px;font-family:'Liberation Sans', Arial, sans-serif;font-size:25.87px;line-height:25.87px;font-weight:400;letter-spacing:0.314px;color:#18181b;">lifetime</div><div class="t" style="left:2138.1px;top:1299.4px;font-family:'Liberation Sans', Arial, sans-serif;font-size:25.87px;line-height:25.87px;font-weight:400;letter-spacing:-0.233px;color:#18181b;">Advanced AI ChatGPT-4o</div><div class="t" style="left:2138.1px;top:1339.6px;font-family:'Liberation Sans', Arial, sans-serif;font-size:25.87px;line-height:25.87px;font-weight:400;letter-spacing:0.02px;color:#18181b;">Text generationGPT-4o-mini</div><div class="t" style="left:2136.1px;top:1379.8px;font-family:'Liberation Sans', Arial, sans-serif;font-size:25.87px;line-height:25.87px;font-weight:400;letter-spacing:-0.378px;color:#18181b;">Image generationDALL-E 3</div><div class="t" style="left:2105px;top:1419.5px;font-family:'Liberation Sans', Arial, sans-serif;font-size:25.87px;line-height:25.87px;font-weight:400;letter-spacing:-0.305px;color:#18181b;-webkit-text-stroke:0.45px currentColor;">Show all 10 features</div><div class="t" style="left:597.8px;top:1544.9px;font-family:'Liberation Sans', Arial, sans-serif;font-size:25.87px;line-height:25.87px;font-weight:700;letter-spacing:-0.507px;color:#18181b;-webkit-text-stroke:0.5px #ffffff;">aistarterkit.dev</div><div class="t" style="left:949.6px;top:1544.9px;font-family:'Liberation Sans', Arial, sans-serif;font-size:25.87px;line-height:25.87px;font-weight:400;letter-spacing:-0.183px;color:#18181b;">Starter</div><div class="t" style="left:1124.9px;top:1529.3px;font-family:'Liberation Sans', Arial, sans-serif;font-size:25.87px;line-height:25.87px;font-weight:400;letter-spacing:-0.007px;color:#18181b;">Best suited for freelancers and</div><div class="t" style="left:1124.9px;top:1560.5px;font-family:'Liberation Sans', Arial, sans-serif;font-size:25.87px;line-height:25.87px;font-weight:400;letter-spacing:0.082px;color:#18181b;">individuals.</div><div class="t" style="left:1566.7px;top:1544.9px;font-family:'Liberation Sans', Arial, sans-serif;font-size:25.87px;line-height:25.87px;font-weight:400;letter-spacing:0.6px;color:#18181b;">69$/mo</div><div class="t" style="left:1785.7px;top:1544.9px;font-family:'Liberation Sans', Arial, sans-serif;font-size:25.87px;line-height:25.87px;font-weight:400;letter-spacing:0px;color:#18181b;">1</div><div class="t" style="left:1927.7px;top:1544.9px;font-family:'Liberation Sans', Arial, sans-serif;font-size:25.87px;line-height:25.87px;font-weight:400;letter-spacing:0.314px;color:#18181b;">lifetime</div><div class="t" style="left:2137.1px;top:1485.6px;font-family:'Liberation Sans', Arial, sans-serif;font-size:25.87px;line-height:25.87px;font-weight:400;letter-spacing:-0.156px;color:#18181b;">3 Projects</div><div class="t" style="left:2136.1px;top:1525.7px;font-family:'Liberation Sans', Arial, sans-serif;font-size:25.87px;line-height:25.87px;font-weight:400;letter-spacing:-0.317px;color:#18181b;">Email Support</div><div class="t" style="left:2137.1px;top:1565.9px;font-family:'Liberation Sans', Arial, sans-serif;font-size:25.87px;line-height:25.87px;font-weight:400;letter-spacing:-0.014px;color:#18181b;">6 Months</div><div class="t" style="left:2105px;top:1606.1px;font-family:'Liberation Sans', Arial, sans-serif;font-size:25.87px;line-height:25.87px;font-weight:400;letter-spacing:-0.039px;color:#18181b;-webkit-text-stroke:0.45px currentColor;">Show all 6 features</div><div class="t" style="left:598px;top:1731.5px;font-family:'Liberation Sans', Arial, sans-serif;font-size:25.87px;line-height:25.87px;font-weight:700;letter-spacing:-0.688px;color:#18181b;-webkit-text-stroke:0.5px #ffffff;">shipfa.st</div><div class="t" style="left:949.7px;top:1731.5px;font-family:'Liberation Sans', Arial, sans-serif;font-size:25.87px;line-height:25.87px;font-weight:400;letter-spacing:-0.167px;color:#18181b;">Starter</div><div class="t" style="left:1124.1px;top:1731.5px;font-family:'Liberation Sans', Arial, sans-serif;font-size:25.87px;line-height:25.87px;font-weight:400;letter-spacing:0.05px;color:#18181b;">N/A</div><div class="t" style="left:1565.7px;top:1731.5px;font-family:'Liberation Sans', Arial, sans-serif;font-size:25.87px;line-height:25.87px;font-weight:400;letter-spacing:-0.267px;color:#18181b;">199$/mo</div><div class="t" style="left:1785.7px;top:1731.5px;font-family:'Liberation Sans', Arial, sans-serif;font-size:25.87px;line-height:25.87px;font-weight:400;letter-spacing:0px;color:#18181b;">1</div><div class="t" style="left:1927.7px;top:1731.5px;font-family:'Liberation Sans', Arial, sans-serif;font-size:25.87px;line-height:25.87px;font-weight:400;letter-spacing:0.314px;color:#18181b;">lifetime</div><div class="t" style="left:2136.1px;top:1671.2px;font-family:'Liberation Sans', Arial, sans-serif;font-size:25.87px;line-height:25.87px;font-weight:400;letter-spacing:-0.018px;color:#18181b;">NextJS boilerplate</div><div class="t" style="left:2137.1px;top:1711.4px;font-family:'Liberation Sans', Arial, sans-serif;font-size:25.87px;line-height:25.87px;font-weight:400;letter-spacing:-1.011px;color:#18181b;">SEO &amp; Blog</div><div class="t" style="left:2136.1px;top:1751.6px;font-family:'Liberation Sans', Arial, sans-serif;font-size:25.87px;line-height:25.87px;font-weight:400;letter-spacing:-0.2px;color:#18181b;">Mailgun emails</div>
</body></html>
